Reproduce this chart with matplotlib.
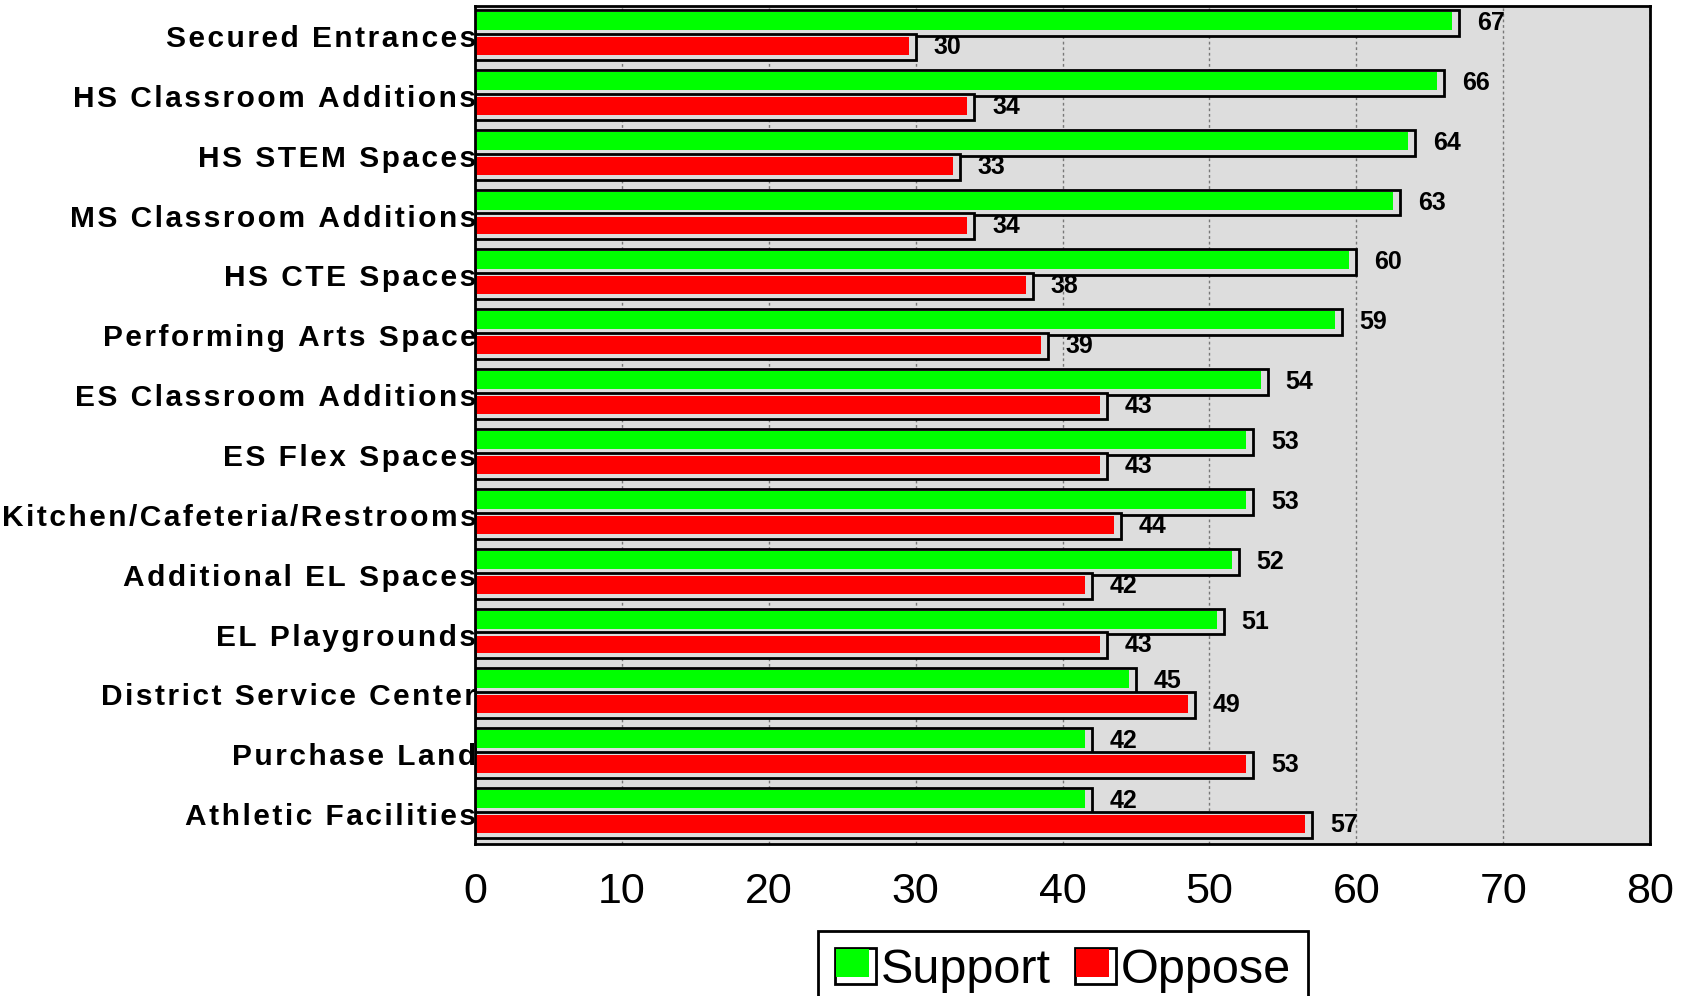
import numpy as np
import matplotlib
matplotlib.use("Agg")
import matplotlib.pyplot as plt
from matplotlib import font_manager as fm
from matplotlib.patches import Rectangle
from matplotlib.legend_handler import HandlerBase

categories = ["Secured Entrances", "HS Classroom Additions", "HS STEM Spaces",
              "MS Classroom Additions", "HS CTE Spaces", "Performing Arts Space",
              "ES Classroom Additions", "ES Flex Spaces", "Kitchen/Cafeteria/Restrooms",
              "Additional EL Spaces", "EL Playgrounds", "District Service Center",
              "Purchase Land", "Athletic Facilities"]
support = [67, 66, 64, 63, 60, 59, 54, 53, 53, 52, 51, 45, 42, 42]
oppose = [30, 34, 33, 34, 38, 39, 43, 43, 44, 42, 43, 49, 53, 57]
xticks = [0, 10, 20, 30, 40, 50, 60, 70, 80]
series_names = ["Support", "Oppose"]

names = {f.name for f in fm.fontManager.ttflist}
NARROW = "Liberation Sans Narrow" if "Liberation Sans Narrow" in names else "Liberation Sans"
BASE = "Liberation Sans"
plt.rcParams['font.family'] = [BASE, 'DejaVu Sans']

GREEN = "#00ff00"
RED = "#ff0000"
BG = "#dddddd"

W, H = 1686, 996
fig = plt.figure(figsize=(W / 100, H / 100), dpi=100)
ax = fig.add_axes([475 / W, 1 - 844 / H, (1650 - 475) / W, (844 - 6) / H])
ax.set_facecolor(BG)

idx = np.arange(len(categories))
sup = np.array(support, dtype=float)
opp = np.array(oppose, dtype=float)

# shadow/outline boxes
ax.barh(idx - 0.217, sup, height=0.433, color=BG, edgecolor="black", linewidth=2.0, zorder=2)
ax.barh(idx - 0.25, sup - 0.48, height=0.30, color=GREEN, linewidth=0, zorder=3)
ax.barh(idx + 0.183, opp, height=0.433, color=BG, edgecolor="black", linewidth=2.0, zorder=4)
ax.barh(idx + 0.167, opp - 0.48, height=0.30, color=RED, linewidth=0, zorder=5)

for i in idx:
    ax.text(sup[i] + 1.2, i - 0.217, f"{support[i]}", ha="left", va="center",
            fontsize=18, fontweight="bold", family=[NARROW, 'DejaVu Sans'], zorder=6)
    ax.text(opp[i] + 1.2, i + 0.183, f"{oppose[i]}", ha="left", va="center",
            fontsize=18, fontweight="bold", family=[NARROW, 'DejaVu Sans'], zorder=6)

ax.set_xlim(0, 80)
ax.set_ylim(len(categories) - 0.5, -0.5)
ax.set_xticks(xticks)
ax.set_xticklabels([str(t) for t in xticks], fontsize=31, family=[NARROW, 'DejaVu Sans'])
ax.set_yticks(idx)
spaced = ["\u200a".join(list(c)) for c in categories]
ax.set_yticklabels(spaced, fontsize=21.5, fontweight="bold", family=[BASE, 'DejaVu Sans'])
ax.tick_params(axis="x", length=0, pad=20)
ax.tick_params(axis="y", length=0, pad=-1)

ax.xaxis.grid(True, color="#777777", linestyle=(0, (2, 2)), linewidth=1.0)
ax.set_axisbelow(True)
for s in ax.spines.values():
    s.set_linewidth(2.0)
    s.set_color("black")
    s.set_zorder(10)


class ShadowHandler(HandlerBase):
    def __init__(self, color):
        super().__init__()
        self.color = color

    def create_artists(self, legend, orig_handle, xdescent, ydescent, width, height, fontsize, trans):
        x0, y0 = -xdescent, -ydescent
        outer = Rectangle((x0, y0), width, height, facecolor="white", edgecolor="black",
                          linewidth=2, transform=trans)
        inner = Rectangle((x0 + 1, y0 + height * 0.2), width * 0.8, height * 0.78,
                          facecolor=self.color, edgecolor="none", transform=trans)
        return [outer, inner]


h1 = Rectangle((0, 0), 1, 1, color=GREEN)
h2 = Rectangle((0, 0), 1, 1, color=RED)
leg = fig.legend([h1, h2], series_names, loc="upper center",
                 bbox_to_anchor=(0.6305, 0.0653), bbox_transform=fig.transFigure,
                 ncol=2, fancybox=False, framealpha=1, edgecolor="black",
                 prop={"family": [NARROW, 'DejaVu Sans'], "size": 35},
                 handler_map={h1: ShadowHandler(GREEN), h2: ShadowHandler(RED)},
                 handlelength=0.85, handleheight=0.75, handletextpad=0.1,
                 columnspacing=0.5, borderpad=0.35, borderaxespad=0)
leg.get_frame().set_linewidth(2)

fig.savefig("out.png", dpi=100)
